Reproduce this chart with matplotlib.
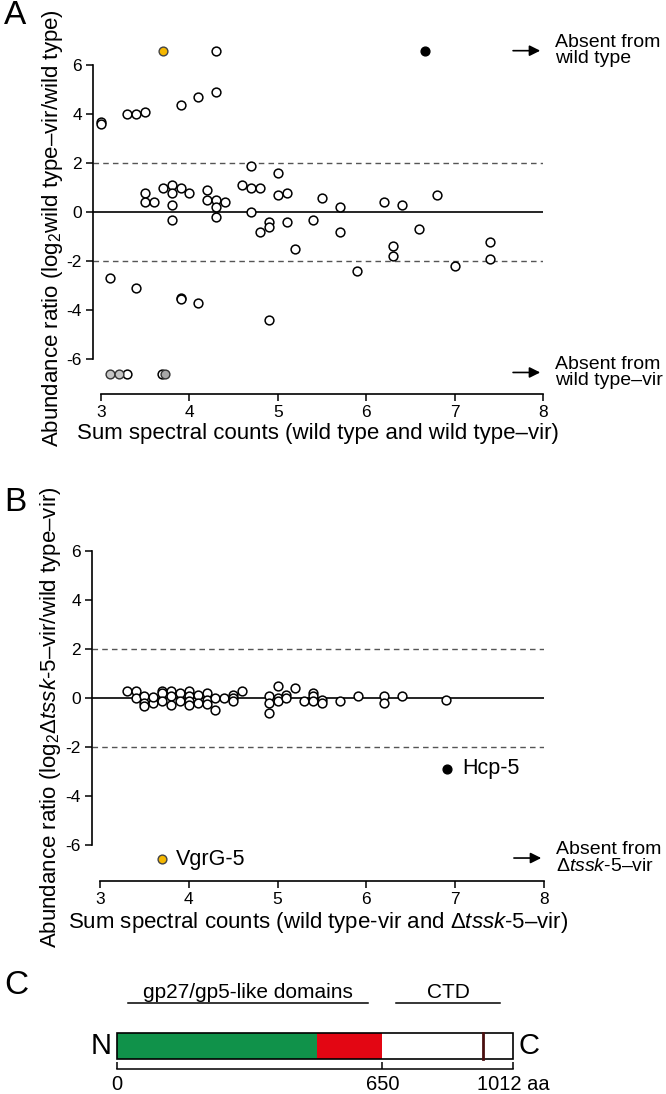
import matplotlib
matplotlib.use('Agg')
import matplotlib.pyplot as plt

plt.rcParams['font.family'] = ['Liberation Sans', 'DejaVu Sans']
plt.rcParams['mathtext.fontset'] = 'custom'
plt.rcParams['mathtext.rm'] = 'Liberation Sans'
plt.rcParams['mathtext.it'] = 'Liberation Sans:italic'

# ---- panel A data (sum spectral counts, log2 ratio) ----
a_open_x = [4.3, 3.0, 3.0, 3.3, 3.4, 3.5, 3.9, 4.1, 4.3,
            3.5, 3.5, 3.6, 3.7, 3.8, 3.8, 3.9, 4.0, 3.8, 3.8,
            4.2, 4.2, 4.3, 4.3, 4.3, 4.4,
            4.6, 4.7, 4.7, 4.8, 4.7, 5.0, 5.0, 5.1,
            4.9, 4.9, 4.8, 5.1, 5.2, 5.4, 5.5, 5.7, 5.7,
            6.2, 6.4, 6.6, 6.8, 6.3, 6.3, 5.9, 7.0, 7.4, 7.4,
            3.1, 3.4, 3.9, 3.9, 4.1, 4.9,
            3.3, 3.69]
a_open_y = [6.6, 3.7, 3.6, 4.0, 4.0, 4.1, 4.4, 4.7, 4.9,
            0.8, 0.4, 0.4, 1.0, 1.1, 0.8, 1.0, 0.8, 0.3, -0.3,
            0.9, 0.5, 0.5, 0.2, -0.2, 0.4,
            1.1, 1.9, 1.0, 1.0, 0.0, 1.6, 0.7, 0.8,
            -0.4, -0.6, -0.8, -0.4, -1.5, -0.3, 0.6, 0.2, -0.8,
            0.4, 0.3, -0.7, 0.7, -1.4, -1.8, -2.4, -2.2, -1.2, -1.9,
            -2.7, -3.1, -3.5, -3.55, -3.7, -4.4,
            -6.6, -6.6]
a_gray_x = [3.1, 3.2, 3.73]
a_gray_y = [-6.6, -6.6, -6.6]
a_yellow = (3.7, 6.6)
a_black = (6.67, 6.6)

# ---- panel B data ----
b_open_x = [3.3, 3.4, 3.4, 3.5, 3.5, 3.5, 3.6, 3.6, 3.7, 3.7, 3.7,
            3.8, 3.8, 3.8, 3.9, 3.9, 4.0, 4.0, 4.0, 4.0, 4.1, 4.1,
            4.2, 4.2, 4.2, 4.3, 4.3, 4.4, 4.5, 4.5, 4.5, 4.6,
            4.9, 4.9, 4.9, 5.0, 5.0, 5.0, 5.1, 5.1, 5.2, 5.3,
            5.4, 5.4, 5.4, 5.5, 5.5, 5.7, 5.9, 6.2, 6.2, 6.4, 6.9]
b_open_y = [0.3, 0.3, 0.0, 0.1, -0.2, -0.34, -0.2, 0.05, 0.3, 0.2, -0.14,
            0.3, 0.07, -0.3, 0.2, -0.14, 0.3, 0.07, -0.14, -0.3, 0.14, -0.2,
            0.2, -0.07, -0.25, -0.5, 0.0, 0.0, 0.14, 0.0, -0.14, 0.3,
            0.1, -0.2, -0.6, 0.5, 0.0, -0.14, 0.14, 0.0, 0.4, -0.14,
            0.2, 0.07, -0.14, -0.07, -0.2, -0.14, 0.1, 0.1, -0.2, 0.1, -0.1]
b_hcp = (6.91, -2.9)
b_vgrg = (3.7, -6.6)

# ---- panel C data (VgrG-5 domains, aa) ----
vgrg_len = 1012
green_end = 511
red_end = 678
mark_pos = 934
gp_span = (29, 642)
ctd_span = (712, 979)
c_ticks = [0, 678, 1012]
c_ticklabels = ['0', '650', '1012 aa']

W, H = 666, 1094


def rect(left, right, top, bottom):
    return [left / W, 1 - bottom / H, (right - left) / W, (bottom - top) / H]


fig = plt.figure(figsize=(6.66, 10.94), dpi=100)

dash_kw = dict(color='#555555', lw=1.0, ls=(0, (4, 3)))
open_kw = dict(s=40, facecolor='white', edgecolor='black', linewidths=1.1, zorder=3, clip_on=False)


def style_scatter_axes(ax, ymin):
    ax.set_xlim(2.91, 8.0)
    ax.set_ylim(ymin, 7.2)
    for s in ['top', 'right']:
        ax.spines[s].set_visible(False)
    ax.spines['left'].set_bounds(-6, 6)
    ax.spines['bottom'].set_bounds(3, 8)
    ax.spines['left'].set_linewidth(1.2)
    ax.spines['bottom'].set_linewidth(1.2)
    ax.set_xticks([3, 4, 5, 6, 7, 8])
    ax.set_yticks([-6, -4, -2, 0, 2, 4, 6])
    ax.set_yticklabels(['-6', '-4', '-2', '0', '2', '4', '6'])
    ax.tick_params(labelsize=12.5, length=5, width=1.1, pad=3)
    ax.axhline(0, xmin=0, xmax=1, color='black', lw=1.2, zorder=1)
    ax.axhline(2, **dash_kw, zorder=1)
    ax.axhline(-2, **dash_kw, zorder=1)


def absent(ax, y, text):
    ax.annotate('', xy=(8.0, y), xytext=(7.63, y),
                arrowprops=dict(arrowstyle='-|>', color='black', lw=1.2,
                                mutation_scale=16), annotation_clip=False)
    ax.text(8.14, y, text, fontsize=14, ha='left', va='center', linespacing=0.95)


# Panel A
axA = fig.add_axes(rect(93, 543, 36, 394))
style_scatter_axes(axA, -7.43)
axA.scatter(a_open_x, a_open_y, **open_kw)
axA.scatter(a_gray_x[:2], a_gray_y[:2], s=40, facecolor='#c4c4c4', edgecolor='#333333',
            linewidths=1.0, zorder=3)
axA.scatter(a_gray_x[2:], a_gray_y[2:], s=40, facecolor='#a8a8a8', edgecolor='#333333',
            linewidths=1.0, zorder=4)
axA.scatter([a_yellow[0]], [a_yellow[1]], s=40, facecolor='#f5b700', edgecolor='#444444',
            linewidths=1.0, zorder=4, clip_on=False)
axA.scatter([a_black[0]], [a_black[1]], s=40, facecolor='black', edgecolor='black',
            zorder=4, clip_on=False)
absent(axA, 6.6, 'Absent from\nwild type')
absent(axA, -6.55, 'Absent from\nwild type\u2013vir')
axA.set_xlabel('Sum spectral counts (wild type and wild type\u2013vir)', fontsize=16, labelpad=2)
fig.text(53 / W, 1 - 228 / H, 'Abundance ratio (log$_2$wild type\u2013vir/wild type)',
         rotation=90, fontsize=16, ha='center', va='center')
fig.text(4 / W, 1 - 15 / H, 'A', fontsize=24, ha='left', va='center')

# Panel B
axB = fig.add_axes(rect(92, 544, 522, 881))
style_scatter_axes(axB, -7.49)
axB.scatter(b_open_x, b_open_y, **open_kw)
axB.scatter([b_hcp[0]], [b_hcp[1]], s=40, facecolor='black', edgecolor='black', zorder=4)
axB.scatter([b_vgrg[0]], [b_vgrg[1]], s=40, facecolor='#f5b700', edgecolor='#444444',
            linewidths=1.0, zorder=4)
axB.text(7.08, -2.9, 'Hcp-5', fontsize=15.5, ha='left', va='center')
axB.text(3.86, -6.6, 'VgrG-5', fontsize=15.5, ha='left', va='center')
absent(axB, -6.55, 'Absent from\n\u0394$\\mathit{tssk}$-$\\mathit{5}$\u2013vir')
axB.set_xlabel('Sum spectral counts (wild type-vir and \u0394$\\mathit{tssk}$-$\\mathit{5}$\u2013vir)',
               fontsize=16, labelpad=2)
fig.text(51 / W, 1 - 717 / H,
         'Abundance ratio (log$_2$\u0394$\\mathit{tssk}$-$\\mathit{5}$\u2013vir/wild type\u2013vir)',
         rotation=90, fontsize=16, ha='center', va='center')
fig.text(4 / W, 1 - 503 / H, 'B', fontsize=24, ha='left', va='center')

# Panel C
axC = fig.add_axes(rect(116.5, 513.4, 960, 1069.3))
axC.set_xlim(0, vgrg_len)
axC.set_ylim(0, 109.3)
for s in ['top', 'right', 'left']:
    axC.spines[s].set_visible(False)
axC.spines['bottom'].set_bounds(0, vgrg_len)
axC.spines['bottom'].set_linewidth(1.1)
axC.set_yticks([])
axC.set_xticks(c_ticks)
axC.set_xticklabels(c_ticklabels)
axC.tick_params(axis='x', direction='in', length=5, width=1.1, labelsize=14.5, pad=4)

bar_y, bar_h = 10.3, 26.3
axC.barh(bar_y, green_end, left=0, height=bar_h, align='edge', color='#10924a', lw=0)
axC.barh(bar_y, red_end - green_end, left=green_end, height=bar_h, align='edge',
         color='#e30613', lw=0)
axC.barh(bar_y, vgrg_len, left=0, height=bar_h, align='edge', facecolor='none',
         edgecolor='black', lw=1.2, clip_on=False)
axC.plot([mark_pos, mark_pos], [bar_y, bar_y + bar_h], color='#4a0f0f', lw=2)
axC.plot(gp_span, [66.3, 66.3], color='black', lw=1.1)
axC.plot(ctd_span, [66.3, 66.3], color='black', lw=1.1)
axC.text(sum(gp_span) / 2, 77, 'gp27/gp5-like domains', fontsize=15, ha='center', va='center')
axC.text(sum(ctd_span) / 2, 77, 'CTD', fontsize=15, ha='center', va='center')
axC.text(-12, bar_y + bar_h / 2, 'N', fontsize=21, ha='right', va='center')
axC.text(vgrg_len + 14, bar_y + bar_h / 2, 'C', fontsize=21, ha='left', va='center')
fig.text(4 / W, 1 - 985 / H, 'C', fontsize=24, ha='left', va='center')

fig.savefig('out.png', dpi=100)
